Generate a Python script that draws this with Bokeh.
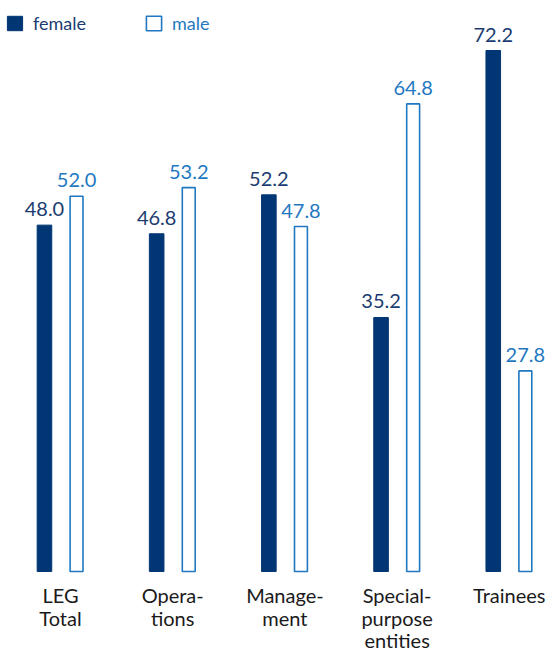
from bokeh.plotting import figure
from bokeh.models import ColumnDataSource, Range1d, Legend, LegendItem
from bokeh.core.properties import value
from bokeh.embed import file_html
from bokeh.resources import INLINE

categories = ["LEG\nTotal", "Opera-\ntions", "Manage-\nment", "Special-\npurpose\nentities", "Trainees"]
female = [48.0, 46.8, 52.2, 35.2, 72.2]
male = [52.0, 53.2, 47.8, 64.8, 27.8]

NAVY = "#003673"
BLUE = "#1f78c0"
FONT = "Lato"

idx = list(range(len(categories)))
off = 0.143
src_f = ColumnDataSource(dict(x=[i - off for i in idx], top=female,
                              lab=[f"{v:.1f}" for v in female]))
src_m = ColumnDataSource(dict(x=[i + off for i in idx], top=male,
                              lab=[f"{v:.1f}" for v in male]))
src_c = ColumnDataSource(dict(x=idx, y=[0] * len(idx), lab=categories))

W, H = 547, 664
p = figure(width=W, height=H, output_backend="svg", toolbar_location=None,
           x_range=Range1d(-0.5348, 4.3404), y_range=Range1d(-12.89, 79.13),
           min_border=0, outline_line_color=None)
p.axis.visible = False
p.grid.visible = False

rf = p.vbar(x="x", top="top", bottom=0, width=0.13, source=src_f,
            fill_color=NAVY, line_color=NAVY, line_width=1)
rm = p.vbar(x="x", top="top", bottom=0, width=0.115, source=src_m,
            fill_color="white", line_color=BLUE, line_width=1.6)

p.text(x="x", y="top", text="lab", source=src_f, text_align="center",
       text_baseline="bottom", y_offset=-9, text_color="#1b3c70",
       text_font=value(FONT), text_font_size="20px")
p.text(x="x", y="top", text="lab", source=src_m, text_align="center",
       text_baseline="bottom", y_offset=-9, text_color=BLUE,
       text_font=value(FONT), text_font_size="20px")
p.text(x="x", y="y", text="lab", source=src_c, text_align="center",
       text_baseline="top", y_offset=12, text_color="#1a1a1a",
       text_font=value(FONT), text_font_size="20px", text_line_height=0.92)

for r, name, col, x0 in [(rf, "female", "#1b3c70", 5), (rm, "male", BLUE, 144)]:
    lg = Legend(items=[LegendItem(label=name, renderers=[r])],
                location=(x0, H - 34), orientation="horizontal",
                glyph_width=19, glyph_height=18, label_standoff=9,
                label_height=20,
                label_text_font=FONT, label_text_font_size="18px",
                label_text_color=col, padding=0, margin=0, spacing=0,
                border_line_color=None, background_fill_alpha=0)
    p.add_layout(lg)

open("out.html", "w").write(file_html(p, INLINE))
